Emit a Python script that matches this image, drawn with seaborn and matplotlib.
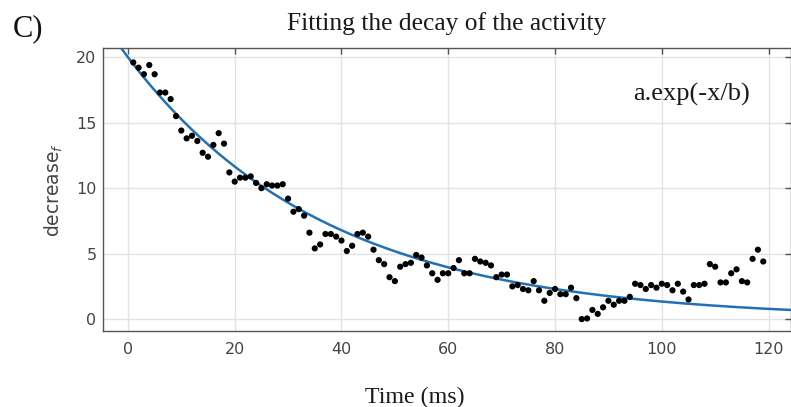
import numpy as np
import pandas as pd
import matplotlib
matplotlib.use("Agg")
import matplotlib.pyplot as plt
import seaborn as sns

time_ms = list(range(1, 120))
decrease = [
    19.6, 19.2, 18.7, 19.4, 18.7, 17.3, 17.3, 16.8, 15.5, 14.4,
    13.8, 14.0, 13.6, 12.7, 12.4, 13.3, 14.2, 13.4, 11.2, 10.5,
    10.8, 10.8, 10.9, 10.4, 10.0, 10.3, 10.2, 10.2, 10.3, 9.2,
    8.2, 8.4, 7.9, 6.6, 5.4, 5.7, 6.5, 6.5, 6.3, 6.0,
    5.2, 5.6, 6.5, 6.6, 6.3, 5.3, 4.5, 4.2, 3.2, 2.9,
    4.0, 4.2, 4.3, 4.9, 4.7, 4.1, 3.5, 3.0, 3.5, 3.5,
    3.9, 4.5, 3.5, 3.5, 4.6, 4.4, 4.3, 4.1, 3.2, 3.4,
    3.4, 2.5, 2.6, 2.3, 2.2, 2.9, 2.2, 1.4, 2.0, 2.3,
    1.9, 1.9, 2.4, 1.6, 0.0, 0.05, 0.7, 0.4, 0.9, 1.4,
    1.1, 1.4, 1.4, 1.7, 2.7, 2.6, 2.3, 2.6, 2.4, 2.7,
    2.6, 2.2, 2.7, 2.1, 1.5, 2.6, 2.6, 2.7, 4.2, 4.0,
    2.8, 2.8, 3.5, 3.8, 2.9, 2.8, 4.6, 5.3, 4.4,
]

# fitted parameters of a.exp(-x/b)
fit_a = 20.0
fit_b = 37.0

df = pd.DataFrame({"time": time_ms, "decrease": decrease})
t_fit = np.linspace(-5, 125, 300)
fit_df = pd.DataFrame({"time": t_fit, "fit": fit_a * np.exp(-t_fit / fit_b)})

sns.set_theme(style="whitegrid")
plt.rcParams["font.family"] = ["DejaVu Sans"]
plt.rcParams["mathtext.fontset"] = "dejavusans"

fig = plt.figure(figsize=(7.91, 4.07), dpi=100)
ax = fig.add_axes([0.130, 0.187, 0.870, 0.695])

sns.lineplot(data=fit_df, x="time", y="fit", color="#2271b5", linewidth=1.8, ax=ax, zorder=2)
sns.scatterplot(data=df, x="time", y="decrease", color="black", s=20, edgecolor="none", ax=ax, zorder=3)

ax.set_xlim(-4.7, 124.2)
ax.set_ylim(-0.9, 20.7)
ax.set_xticks([0, 20, 40, 60, 80, 100, 120])
ax.set_yticks([0, 5, 10, 15, 20])
ax.grid(True, color="#e3e3e3", linewidth=1.0)
ax.set_facecolor("white")
for side in ["left", "bottom", "top", "right"]:
    ax.spines[side].set_color("#555555")
    ax.spines[side].set_linewidth(1.0)
ax.tick_params(direction="in", length=4, width=1, color="#555555",
               top=True, right=True, labelsize=11.5, labelcolor="#444444")
ax.tick_params(axis="x", pad=8)
ax.tick_params(axis="y", pad=4.5)

ax.set_xlabel("")
ax.set_ylabel(r"decrease$_{\mathit{f}}$", fontsize=13.5, color="#444444", labelpad=8)
ax.set_title("Fitting the decay of the activity", family="Liberation Serif",
             fontsize=18.4, color="#1a1a1a", pad=13)
ax.text(0.856, 0.835, "a.exp(-x/b)", transform=ax.transAxes, ha="center", va="center",
        family="Liberation Serif", fontsize=19, color="#1a1a1a")
fig.text(415 / 791, 1 - 397 / 407, "Time (ms)", ha="center", va="center",
         family="Liberation Serif", fontsize=17.3, color="#1a1a1a")
fig.text(13 / 791, 1 - 29 / 407, "C)", ha="left", va="center",
         family="Liberation Serif", fontsize=22, color="#111111")

fig.savefig("out.png", dpi=100)
